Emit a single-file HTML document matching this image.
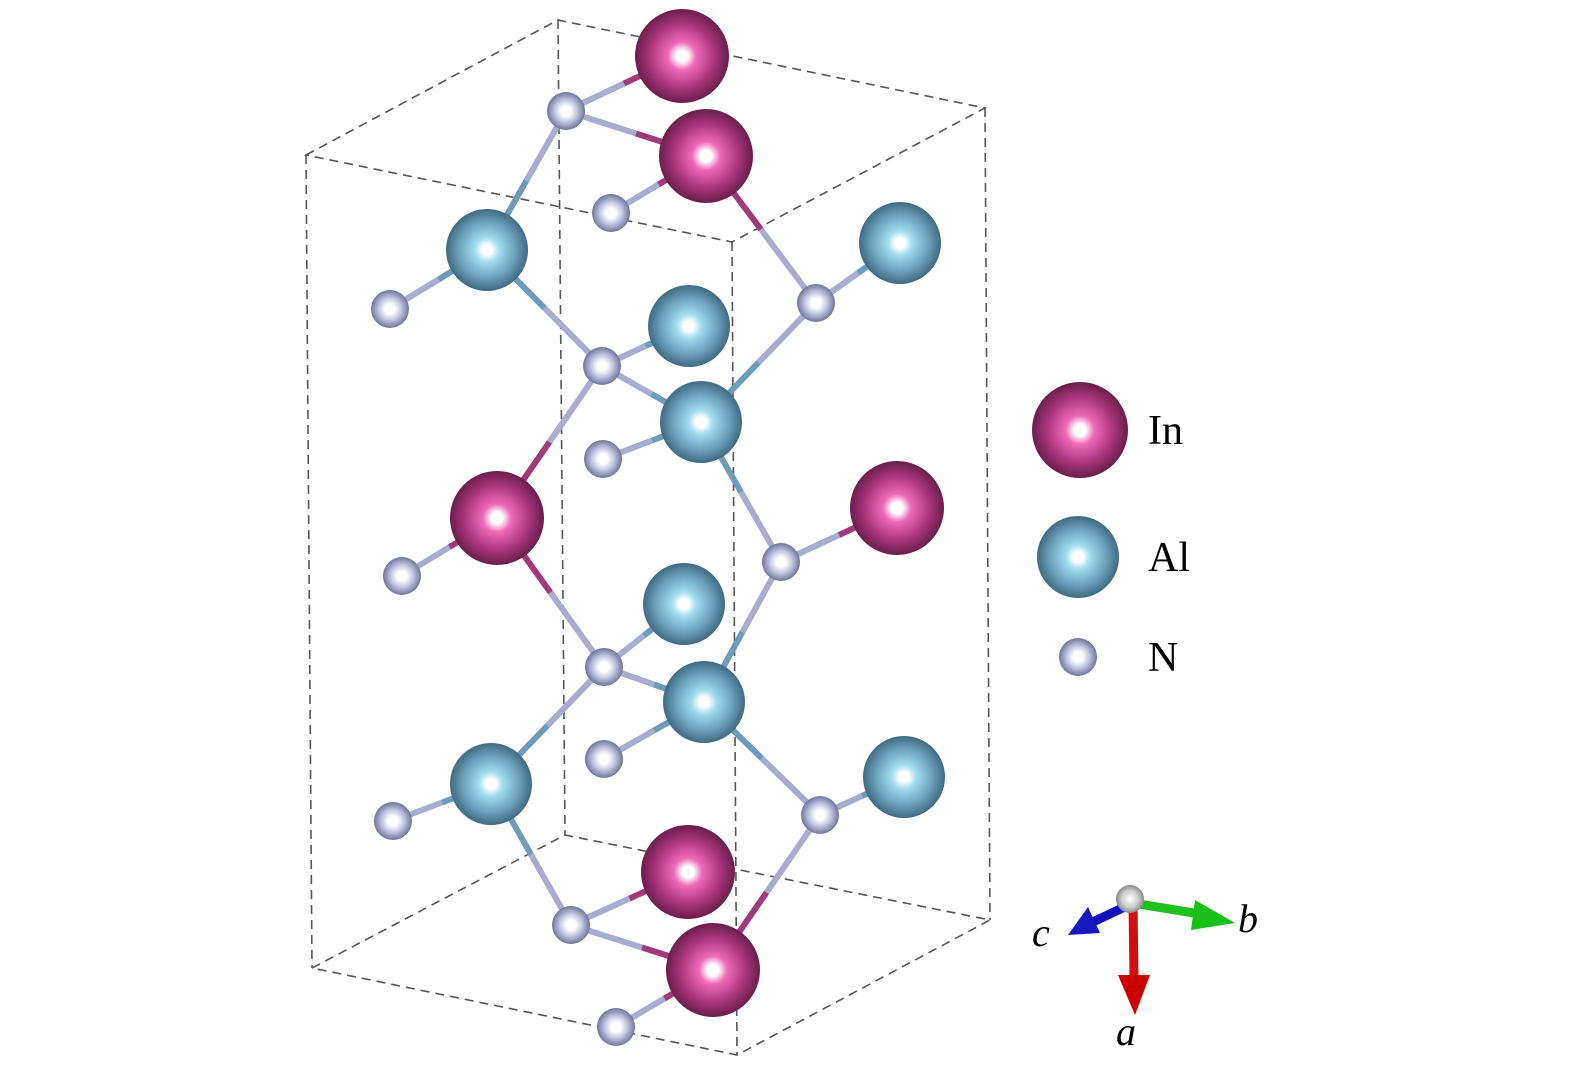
<!DOCTYPE html>
<html><head><meta charset="utf-8"><style>html,body{margin:0;padding:0;background:#fff}svg{display:block}</style></head>
<body>
<svg width="1575" height="1073" viewBox="0 0 1575 1073" xmlns="http://www.w3.org/2000/svg">
<defs>
<radialGradient id="gIn" cx="0.5" cy="0.5" r="0.5">
<stop offset="0" stop-color="#ffffff"/><stop offset="0.12" stop-color="#ffffff"/><stop offset="0.3" stop-color="#ee6ab8"/><stop offset="0.7" stop-color="#a8347a"/><stop offset="1" stop-color="#6a1e4c"/></radialGradient>
<radialGradient id="gAl" cx="0.5" cy="0.5" r="0.5">
<stop offset="0" stop-color="#ffffff"/><stop offset="0.12" stop-color="#ffffff"/><stop offset="0.3" stop-color="#a0dcf0"/><stop offset="0.7" stop-color="#6b9fba"/><stop offset="1" stop-color="#3f6a82"/></radialGradient>
<radialGradient id="gN" cx="0.5" cy="0.5" r="0.5">
<stop offset="0" stop-color="#ffffff"/><stop offset="0.25" stop-color="#ffffff"/><stop offset="0.6" stop-color="#c0c4e0"/><stop offset="1" stop-color="#70749a"/></radialGradient>
<radialGradient id="gO" cx="0.5" cy="0.5" r="0.5">
<stop offset="0" stop-color="#ffffff"/><stop offset="0.6" stop-color="#cccccc"/><stop offset="1" stop-color="#888"/></radialGradient>
</defs>
<g stroke="#555" stroke-width="1.6" stroke-dasharray="9,6" fill="none">
<path d="M306 155 L558 20 L985 108 L732 242 Z"/>
<path d="M312 968 L565 835 L990 920 L737 1055 Z"/>
<path d="M306 155 L312 968 M558 20 L565 835 M985 108 L990 920 M732 242 L737 1055"/>
</g>
<g id="bonds" stroke-width="6" stroke-linecap="butt"></g>
<g id="atoms"></g>
<text x="1148" y="444" font-family="Liberation Serif, serif" font-size="42">In</text>
<text x="1148" y="571" font-family="Liberation Serif, serif" font-size="42">Al</text>
<text x="1148" y="671" font-family="Liberation Serif, serif" font-size="42">N</text>
<g stroke-linecap="round">
<line x1="1133" y1="903" x2="1134" y2="978" stroke="#d01010" stroke-width="9"/>
<polygon points="1118,975 1150,975 1135,1015" fill="#c00"/>
<line x1="1133" y1="903" x2="1200" y2="914" stroke="#20c020" stroke-width="9"/>
<polygon points="1195,900 1235,923 1191,930" fill="#18c018"/>
<line x1="1133" y1="903" x2="1095" y2="921" stroke="#1010c0" stroke-width="9"/>
<polygon points="1088,907 1100,933 1068,935" fill="#1818c0"/>
<circle cx="1130" cy="899" r="14" fill="url(#gO)"/>
</g>
<g font-family="Liberation Serif, serif" font-style="italic" font-size="40">
<text x="1032" y="946">c</text>
<text x="1238" y="932">b</text>
<text x="1116" y="1045">a</text>
</g>
<script>
var In=[[682,56],[706,156],[497,518],[897,508],[688,872],[713,970]];
var Al=[[487,250],[900,243],[689,326],[701,422],[684,604],[704,702],[491,784],[904,777]];
var N=[[566,111],[611,213],[390,309],[816,303],[602,366],[603,459],[402,576],[781,562],[604,667],[604,759],[393,821],[820,815],[571,925],[616,1027]];
var col={I:'#a03a7a',A:'#6c9cba',N:'#a7acd0'};
var B=[['N',0,'I',0],['N',0,'I',1],['N',0,'A',0],['N',1,'I',1],['N',3,'I',1],['N',3,'A',1],['N',3,'A',3],['N',2,'A',0],['N',4,'A',0],['N',4,'A',2],['N',4,'A',3],['N',4,'I',2],['N',5,'A',3],['N',7,'A',3],['N',6,'I',2],['N',8,'I',2],['N',7,'I',3],['N',7,'A',5],['N',8,'A',4],['N',8,'A',5],['N',8,'A',6],['N',9,'A',5],['N',11,'A',5],['N',10,'A',6],['N',12,'A',6],['N',11,'A',7],['N',11,'I',5],['N',12,'I',4],['N',12,'I',5],['N',13,'I',5]];
var ns='http://www.w3.org/2000/svg';
function get(t,i){return t=='N'?N[i]:t=='A'?Al[i]:In[i];}
var bg=document.getElementById('bonds');
B.forEach(function(b){var p=get(b[0],b[1]),q=get(b[2],b[3]);var m=[(p[0]+q[0])/2,(p[1]+q[1])/2];
[[p,m,col[b[0]]],[m,q,col[b[2]]]].forEach(function(s){var l=document.createElementNS(ns,'line');l.setAttribute('x1',s[0][0]);l.setAttribute('y1',s[0][1]);l.setAttribute('x2',s[1][0]);l.setAttribute('y2',s[1][1]);l.setAttribute('stroke',s[2]);bg.appendChild(l);});});
var ag=document.getElementById('atoms');
function c(x,y,r,g){var e=document.createElementNS(ns,'circle');e.setAttribute('cx',x);e.setAttribute('cy',y);e.setAttribute('r',r);e.setAttribute('fill','url(#'+g+')');ag.appendChild(e);}
N.forEach(function(p){c(p[0],p[1],19,'gN');});
Al.forEach(function(p){c(p[0],p[1],41,'gAl');});
In.forEach(function(p){c(p[0],p[1],47,'gIn');});
c(1080,430,48,'gIn');c(1078,557,41,'gAl');c(1078,657,19,'gN');
</script>
</svg>
</body></html>
